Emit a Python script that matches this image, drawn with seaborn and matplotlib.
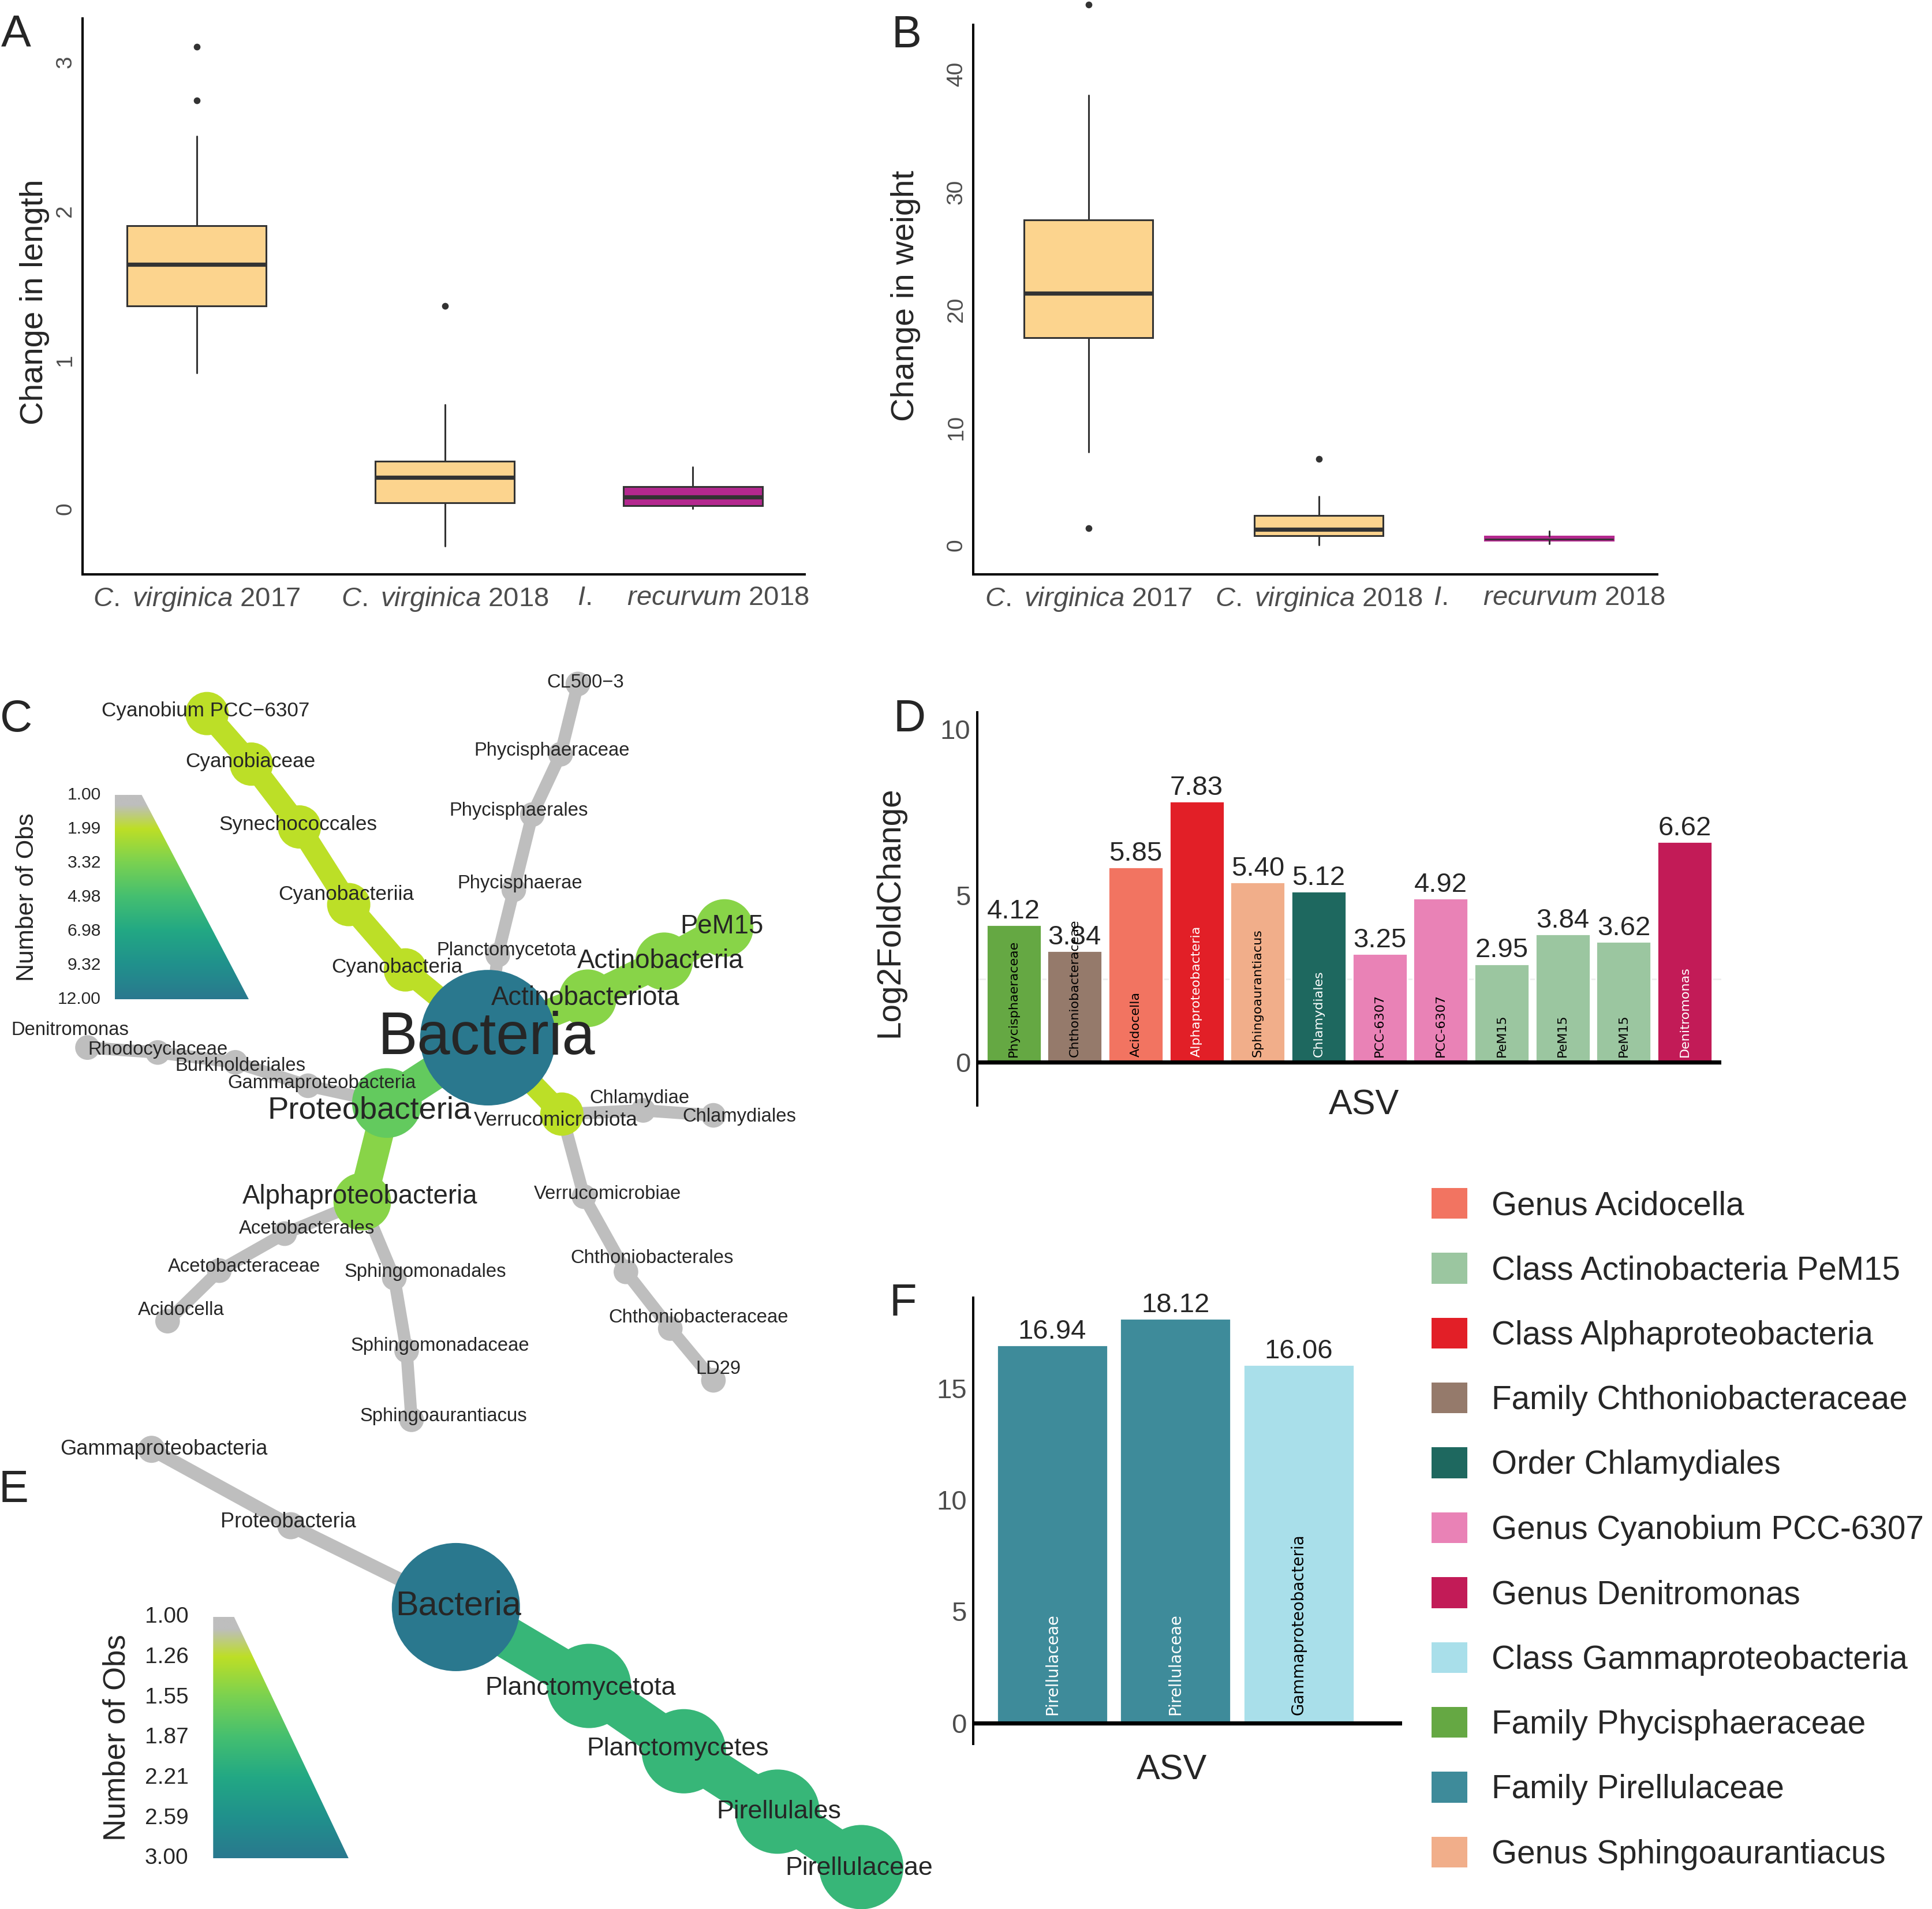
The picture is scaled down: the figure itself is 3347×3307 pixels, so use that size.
import numpy as np
import pandas as pd
import matplotlib
matplotlib.use("Agg")
import matplotlib.pyplot as plt
import seaborn as sns
from matplotlib.colors import LinearSegmentedColormap, to_rgb
from matplotlib.patches import Circle, Polygon, Patch

# ---------------- data ----------------
# A / B: box summaries per group
group_ticklabels = [r"$\mathit{C.}$ $\mathit{virginica}$ 2017",
                    r"$\mathit{C.}$ $\mathit{virginica}$ 2018",
                    r"$\mathit{I.}$    $\mathit{recurvum}$ 2018"]
length_q1 = [1.36, 0.04, 0.02]
length_med = [1.64, 0.21, 0.08]
length_q3 = [1.90, 0.32, 0.15]
length_lo = [0.91, -0.25, 0.00]
length_hi = [2.50, 0.70, 0.28]
length_out = [[2.74, 3.10], [1.36], []]

weight_q1 = [17.6, 0.8, 0.40]
weight_med = [21.4, 1.3, 0.50]
weight_q3 = [27.6, 2.5, 0.75]
weight_lo = [7.9, 0.0, 0.1]
weight_hi = [38.2, 4.1, 1.15]
weight_out = [[1.4, 45.9], [7.3], []]

# C: heat tree (Number of Obs per taxon)
c_names = ["Bacteria", "Proteobacteria", "Alphaproteobacteria", "Acetobacterales",
           "Acetobacteraceae", "Acidocella", "Sphingomonadales", "Sphingomonadaceae",
           "Sphingoaurantiacus", "Gammaproteobacteria", "Burkholderiales", "Rhodocyclaceae",
           "Denitromonas", "Cyanobacteria", "Cyanobacteriia", "Synechococcales",
           "Cyanobiaceae", "Cyanobium PCC\u22126307", "Planctomycetota", "Phycisphaerae",
           "Phycisphaerales", "Phycisphaeraceae", "CL500\u22123", "Actinobacteriota",
           "Actinobacteria", "PeM15", "Verrucomicrobiota", "Chlamydiae", "Chlamydiales",
           "Verrucomicrobiae", "Chthoniobacterales", "Chthoniobacteraceae", "LD29"]
c_parent = [-1, 0, 1, 2, 3, 4, 2, 6, 7, 1, 9, 10, 11, 0, 13, 14, 15, 16,
            0, 18, 19, 20, 21, 0, 23, 24, 0, 26, 27, 26, 29, 30, 31]
c_count = [12, 4, 3, 1, 1, 1, 1, 1, 1, 1, 1, 1, 1, 2, 2, 2, 2, 2,
           1, 1, 1, 1, 1, 3, 3, 3, 2, 1, 1, 1, 1, 1, 1]
# layout of the tree (figure-pixel space of the panel)
c_x = [396, 314, 294, 231, 178, 136, 320, 330, 334, 250, 191, 128, 71, 329, 283, 243,
       204, 168, 404, 417, 432, 455, 469, 477, 539, 588, 456, 522, 579, 474, 508, 544, 579]
c_y = [842, 895, 975, 1001, 1031, 1072, 1037, 1096, 1152, 881, 862, 854, 850, 787, 734,
       671, 620, 579, 775, 722, 661, 612, 555, 810, 780, 753, 904, 901, 905, 971, 1032,
       1078, 1120]
c_lx = [395, 300, 292, 249, 198, 147, 345, 357, 360, 261, 195, 128, 57, 322, 281, 242,
        203, 167, 411, 422, 421, 448, 475, 475, 536, 586, 451, 519, 600, 493, 529, 567, 583]
c_ly = [843, 901, 971, 997, 1028, 1063, 1032, 1092, 1149, 879, 865, 852, 836, 785, 726,
        669, 618, 577, 771, 717, 658, 609, 554, 810, 780, 752, 909, 891, 906, 969, 1021,
        1069, 1111]
c_scale_ticks = ["1.00", "1.99", "3.32", "4.98", "6.98", "9.32", "12.00"]

# E: heat tree
e_names = ["Bacteria", "Proteobacteria", "Gammaproteobacteria", "Planctomycetota",
           "Planctomycetes", "Pirellulales", "Pirellulaceae"]
e_parent = [-1, 0, 1, 0, 3, 4, 5]
e_count = [3, 1, 1, 2, 2, 2, 2]
e_x = [370, 236, 123, 478, 555, 631, 699]
e_y = [1304, 1238, 1176, 1368, 1421, 1470, 1515]
e_lx = [372, 234, 133, 471, 550, 632, 697]
e_ly = [1303, 1235, 1176, 1370, 1419, 1470, 1516]
e_scale_ticks = ["1.00", "1.26", "1.55", "1.87", "2.21", "2.59", "3.00"]

# D: log2 fold change per ASV
d_labels = ["Phycisphaeraceae", "Chthoniobacteraceae", "Acidocella", "Alphaproteobacteria",
            "Sphingoaurantiacus", "Chlamydiales", "PCC-6307", "PCC-6307", "PeM15", "PeM15",
            "PeM15", "Denitromonas"]
d_values = [4.12, 3.34, 5.85, 7.83, 5.40, 5.12, 3.25, 4.92, 2.95, 3.84, 3.62, 6.62]
d_taxa = ["Family Phycisphaeraceae", "Family Chthoniobacteraceae", "Genus Acidocella",
          "Class Alphaproteobacteria", "Genus Sphingoaurantiacus", "Order Chlamydiales",
          "Genus Cyanobium PCC-6307", "Genus Cyanobium PCC-6307",
          "Class Actinobacteria PeM15", "Class Actinobacteria PeM15",
          "Class Actinobacteria PeM15", "Genus Denitromonas"]

# F
f_labels = ["Pirellulaceae", "Pirellulaceae", "Gammaproteobacteria"]
f_values = [16.94, 18.12, 16.06]
f_taxa = ["Family Pirellulaceae", "Family Pirellulaceae", "Class Gammaproteobacteria"]

legend_taxa = ["Genus Acidocella", "Class Actinobacteria PeM15", "Class Alphaproteobacteria",
               "Family Chthoniobacteraceae", "Order Chlamydiales", "Genus Cyanobium PCC-6307",
               "Genus Denitromonas", "Class Gammaproteobacteria", "Family Phycisphaeraceae",
               "Family Pirellulaceae", "Genus Sphingoaurantiacus"]
taxon_colors = {
    "Genus Acidocella": "#F27461",
    "Class Actinobacteria PeM15": "#9BC6A0",
    "Class Alphaproteobacteria": "#E21F27",
    "Family Chthoniobacteraceae": "#957A6B",
    "Order Chlamydiales": "#1E685F",
    "Genus Cyanobium PCC-6307": "#E982B6",
    "Genus Denitromonas": "#C21B57",
    "Class Gammaproteobacteria": "#A9DFEA",
    "Family Phycisphaeraceae": "#65A843",
    "Family Pirellulaceae": "#3E8B9A",
    "Genus Sphingoaurantiacus": "#F1AE8A",
}

# ---------------- style ----------------
sns.set_style("white")
plt.rcParams["font.family"] = ["Liberation Sans", "DejaVu Sans"]
plt.rcParams["mathtext.fontset"] = "custom"
plt.rcParams["mathtext.rm"] = "Liberation Sans"
plt.rcParams["mathtext.it"] = "Liberation Sans:italic"

W, H = 1568, 1549          # layout is measured in this pixel space
PT = (3347 / W) * 72 / 200  # layout px -> points
GRAY_TXT = "#4D4D4D"
DARK = "#333333"

fig = plt.figure(figsize=(3347 / 200, 3307 / 200), dpi=200)


def box(l, t, r, b):
    return [l / W, 1 - b / H, (r - l) / W, (b - t) / H]


def style_axes(ax, tick_size):
    for s in ["top", "right"]:
        ax.spines[s].set_visible(False)
    for s in ["left", "bottom"]:
        ax.spines[s].set_color("black")
        ax.spines[s].set_linewidth(1.45)
    ax.tick_params(axis="y", length=1.2, width=1, color=DARK, labelsize=tick_size,
                   labelcolor=GRAY_TXT, pad=3)
    ax.tick_params(axis="x", length=0, labelcolor=GRAY_TXT)


def boxpanel(ax, q1, med, q3, lo, hi, out, ylabel, yticks, ylim, xlim, lab_xy):
    stats = [dict(q1=a, med=b, q3=c, whislo=d, whishi=e, fliers=f)
             for a, b, c, d, e, f in zip(q1, med, q3, lo, hi, out)]
    bp = ax.bxp(stats, positions=range(len(stats)), widths=0.56, patch_artist=True,
                showcaps=False,
                boxprops=dict(edgecolor=DARK, linewidth=1.1),
                medianprops=dict(color=DARK, linewidth=2.6, solid_capstyle="butt"),
                whiskerprops=dict(color=DARK, linewidth=1.1),
                flierprops=dict(marker="o", markersize=4.2, markerfacecolor=DARK,
                                markeredgecolor="none"))
    for patch, col in zip(bp["boxes"], ["#FCD48E", "#FCD48E", "#B4288F"]):
        patch.set_facecolor(col)
    for fl in bp["fliers"]:
        fl.set_clip_on(False)
    ax.set_xlim(*xlim)
    ax.set_ylim(*ylim)
    ax.set_yticks(yticks)
    ax.set_yticklabels([str(v) for v in yticks], rotation=90, va="center")
    ax.set_xticks(range(3))
    ax.set_xticklabels(group_ticklabels, fontsize=17)
    style_axes(ax, 14)
    ax.tick_params(axis="x", pad=7)
    ax.set_ylabel(ylabel, fontsize=20.3, va="center")
    ax.yaxis.set_label_coords(*lab_xy)
    return bp


# ---- A ----
ax_a = fig.add_axes(box(67, 15, 653, 466))
boxpanel(ax_a, length_q1, length_med, length_q3, length_lo, length_hi, length_out,
         "Change in length", [0, 1, 2, 3], (-0.44, 3.29), (-0.46, 2.45), (-0.066, 0.49))

# ---- B ----
ax_b = fig.add_axes(box(790, 20, 1345, 466))
bp_b = boxpanel(ax_b, weight_q1, weight_med, weight_q3, weight_lo, weight_hi, weight_out,
                "Change in weight", [0, 10, 20, 30, 40], (-2.5, 44.2), (-0.5, 2.47),
                (-0.099, 0.507))
bp_b["medians"][2].set_linewidth(1.0)
bp_b["boxes"][2].set_edgecolor("#B4288F")


# ---- bar panels D / F ----
def text_color(c):
    r, g, b = to_rgb(c)
    return "white" if 0.299 * r + 0.587 * g + 0.114 * b < 0.48 else "black"


def barpanel(ax, labels, values, taxa, inner_size, inner_y, ylim, xlim, yticks):
    df = pd.DataFrame({"asv": [f"ASV{i}" for i in range(len(values))],
                       "lfc": values, "taxon": taxa})
    sns.barplot(data=df, x="asv", y="lfc", hue="taxon", palette=taxon_colors,
                dodge=False, width=0.9, saturation=1, legend=False, ax=ax)
    for cont in ax.containers:
        ax.bar_label(cont, fmt="%.2f", padding=0.5, fontsize=17)
    for i, (lab, tx) in enumerate(zip(labels, taxa)):
        ax.text(i, inner_y, lab, rotation=90, ha="center", va="bottom",
                fontsize=inner_size, family="DejaVu Sans",
                color=text_color(taxon_colors[tx]))
    ax.axhline(0, color="black", lw=2.6, zorder=5)
    ax.set_xlim(*xlim)
    ax.set_ylim(*ylim)
    ax.set_yticks(yticks)
    ax.set_xticks([])
    style_axes(ax, 17)
    ax.spines["bottom"].set_visible(False)
    ax.set_xlabel("")
    ax.set_ylabel("")


ax_d = fig.add_axes(box(793, 578, 1397, 897))
ax_d.axhline(2.5, color="#EFEFEF", lw=1, zorder=0)
barpanel(ax_d, d_labels, d_values, d_taxa, 8, 0.15, (-1.3, 10.5), (-0.6, 11.6), [0, 5, 10])
ax_d.set_ylabel("Log2FoldChange", fontsize=20.4, va="center")
ax_d.yaxis.set_label_coords(-0.1175, 0.492)
ax_d.text(0.52, 0.0, "ASV", transform=ax_d.transAxes, ha="center", va="center", fontsize=22)

ax_f = fig.add_axes(box(790, 1053, 1138, 1415))
barpanel(ax_f, f_labels, f_values, f_taxa, 10, 0.35, (-0.94, 19.06), (-0.64, 2.84), [0, 5, 10, 15])
ax_f.text(0.463, -0.06, "ASV", transform=ax_f.transAxes, ha="center", va="center", fontsize=22)

handles = [Patch(facecolor=taxon_colors[t], edgecolor="none", label=t) for t in legend_taxa]
fig.legend(handles=handles, loc="upper left", bbox_to_anchor=(1162 / W, 1 - 964 / H),
           frameon=False, fontsize=20.4, handlelength=1.08, handleheight=1.07,
           handletextpad=0.75, labelspacing=0.96, borderpad=0, borderaxespad=0)

# ---- heat trees C / E ----
tree_cmap = LinearSegmentedColormap.from_list(
    "obs", [(0.0, "#BEBEBE"), (0.05, "#BEBEBE")] +
    [(0.166 + k * (1 - 0.166) / 5, plt.cm.viridis(0.9 - k * 0.1)) for k in range(6)])

ax_t = fig.add_axes(box(0, 530, 780, 1549))


def heat_tree(ax, names, parent, count, x, y, lx, ly, r_rng, size_rng, size_floor):
    nmax = max(count)
    t = [(np.sqrt(n) - 1) / (np.sqrt(nmax) - 1) for n in count]
    rad = [r_rng[0] + (r_rng[1] - r_rng[0]) * v for v in t]
    for i, p in enumerate(parent):
        if p >= 0:
            ax.plot([x[p], x[i]], [y[p], y[i]], color=tree_cmap(t[i]), lw=rad[i] * PT,
                    solid_capstyle="round", zorder=1)
    for i in range(len(names)):
        ax.add_patch(Circle((x[i], y[i]), rad[i], facecolor=tree_cmap(t[i]),
                            edgecolor="none", zorder=2))
    for i, nm in enumerate(names):
        fs = max(size_floor, size_rng[0] + (size_rng[1] - size_rng[0]) * t[i])
        ax.text(lx[i], ly[i], nm, fontsize=fs, ha="center", va="center", zorder=3)


def obs_scale(ax, left, top, top_right, bottom_right, bottom, ticks, tick_x, tick_fs,
              title_x, title_fs):
    grad = np.linspace(0, 1, 256).reshape(-1, 1)
    im = ax.imshow(grad, cmap=tree_cmap, extent=(left, bottom_right, bottom, top),
                   origin="upper", aspect="auto", zorder=0, interpolation="bilinear")
    tri = Polygon([(left, top), (top_right, top), (bottom_right, bottom), (left, bottom)],
                  closed=True, facecolor="none", edgecolor="none")
    ax.add_patch(tri)
    im.set_clip_path(tri)
    for lab, yy in zip(ticks, np.linspace(top, bottom, len(ticks))):
        ax.text(tick_x, yy, lab, ha="right", va="center", fontsize=tick_fs)
    ax.text(title_x, (top + bottom) / 2, "Number of Obs", rotation=90, ha="center",
            va="center", fontsize=title_fs)


heat_tree(ax_t, c_names, c_parent, c_count, c_x, c_y, c_lx, c_ly, (10, 55), (7.7, 37), 11.8)
obs_scale(ax_t, 93, 645, 115, 202, 811, c_scale_ticks, 82, 10.8, 22, 15.5)
heat_tree(ax_t, e_names, e_parent, e_count, e_x, e_y, e_lx, e_ly, (11, 52), (9.2, 21.4), 13)
obs_scale(ax_t, 173, 1312, 190, 283, 1508, e_scale_ticks, 153, 14, 95, 19)
ax_t.set_xlim(0, 780)
ax_t.set_ylim(1549, 530)
ax_t.axis("off")

# ---- panel letters ----
for letter, (px, py) in zip("ABCDEF", [(13, 28), (736, 29), (13, 584), (738, 584),
                                        (11, 1209), (733, 1058)]):
    fig.text(px / W, 1 - py / H, letter, fontsize=28, ha="center", va="center")

fig.savefig("out.png", dpi=200)
